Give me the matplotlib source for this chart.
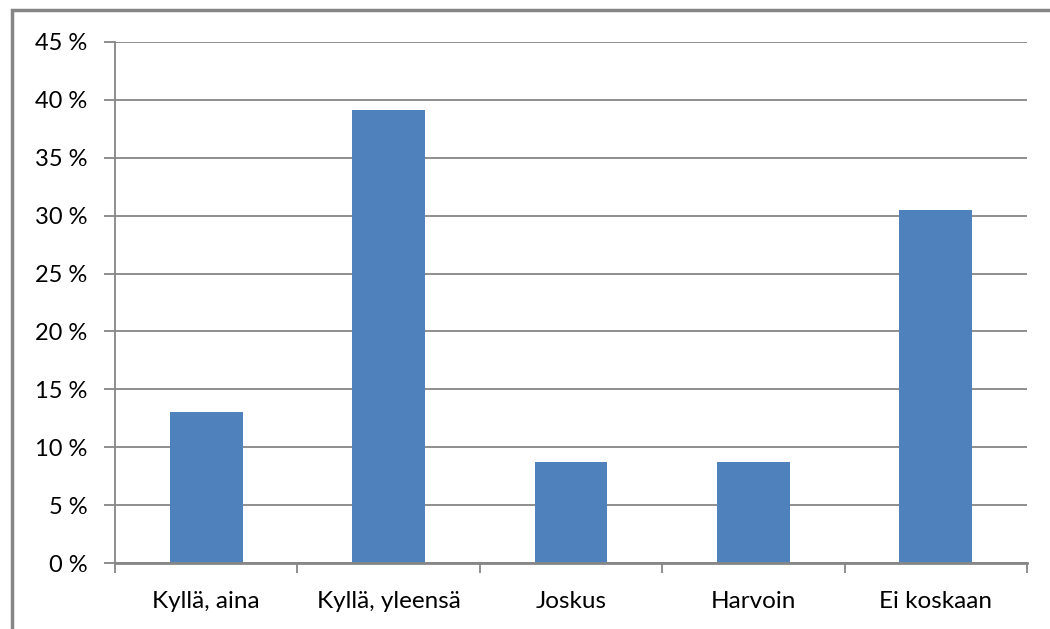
import matplotlib
matplotlib.use("Agg")
import matplotlib.pyplot as plt
from matplotlib.patches import Rectangle
from matplotlib.ticker import FixedLocator

categories = ["Kyllä, aina", "Kyllä, yleensä", "Joskus", "Harvoin", "Ei koskaan"]
values = [13.0, 39.1, 8.7, 8.7, 30.5]
yticks = [0, 5, 10, 15, 20, 25, 30, 35, 40, 45]
ytick_labels = [f"{v} %" for v in yticks]

plt.rcParams['font.family'] = ['Lato', 'DejaVu Sans']

fig = plt.figure(figsize=(10.5, 6.29), dpi=100)
ax = fig.add_axes([115/1050, 1-563/629, (1027-115)/1050, (563-42)/629])

x = range(len(categories))
ax.bar(x, values, width=0.4, color="#4F81BD", zorder=3)

ax.set_xlim(-0.5, len(categories)-0.5)
ax.set_ylim(0, 45)
ax.set_yticks(yticks)
ax.set_yticklabels(ytick_labels, fontsize=17)
ax.yaxis.grid(True, color="#868686", linewidth=1.3, zorder=0)
ax.tick_params(axis='y', length=8, width=1.3, color="#868686", pad=12, labelcolor="#000000")

ax.set_xticks(list(x))
ax.set_xticklabels(categories, fontsize=17.5)
ax.tick_params(axis='x', which='major', length=0, pad=20)
ax.xaxis.set_minor_locator(FixedLocator([i - 0.5 for i in range(len(categories)+1)]))
ax.tick_params(axis='x', which='minor', length=7, width=1.3, color="#868686")

for side in ["top", "right"]:
    ax.spines[side].set_visible(False)
ax.spines["left"].set_color("#868686")
ax.spines["bottom"].set_color("#868686")
ax.spines["left"].set_linewidth(1.3)
ax.spines["bottom"].set_linewidth(2.0)
ax.spines["bottom"].set_zorder(4)

# outer chart frame (partially cropped)
fig.patches.append(Rectangle((12/1050, -0.1), 1.2, 1 - 10/629 + 0.1, transform=fig.transFigure,
                             fill=False, edgecolor="#868686", linewidth=2.5))

fig.savefig("out.png", dpi=100)
